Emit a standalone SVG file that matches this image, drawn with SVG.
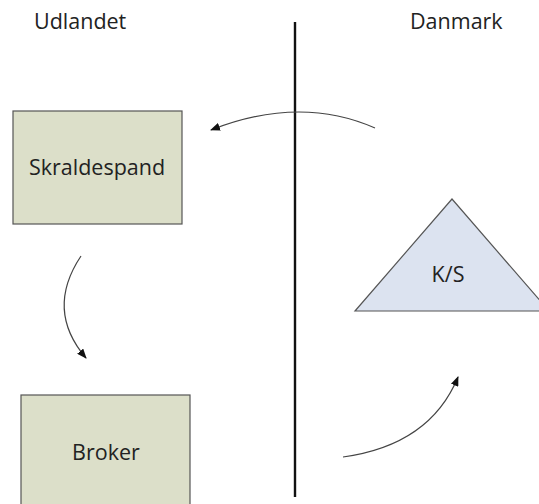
<svg xmlns="http://www.w3.org/2000/svg" width="539" height="504" viewBox="0 0 539 504">
<style>
text{font-family:"Open Sans","Liberation Sans",sans-serif;font-size:21.5px;fill:#222}
.box{fill:#dcdfc9;stroke:#555;stroke-width:1.2}
.tri{fill:#dce3f0;stroke:#555;stroke-width:1.2}
.conn{fill:none;stroke:#444;stroke-width:1.2;marker-end:url(#ah)}
</style>
<defs>
<marker id="ah" markerWidth="10" markerHeight="8" refX="9" refY="4" orient="auto" markerUnits="userSpaceOnUse">
<path d="M0,0 L10,4 L0,8 z" fill="#111"/>
</marker>
</defs>
<rect width="539" height="504" fill="#fff"/>
<line x1="295" y1="22" x2="295" y2="497" stroke="#111" stroke-width="2.4"/>
<text x="34" y="29">Udlandet</text>
<text x="410" y="29">Danmark</text>
<g id="skraldespand">
<rect class="box" x="13" y="111" width="169" height="113"/>
<text x="97" y="175" text-anchor="middle">Skraldespand</text>
</g>
<g id="ks">
<polygon class="tri" points="452,199 355,311 549,311"/>
<text x="448" y="282" text-anchor="middle">K/S</text>
</g>
<g id="broker">
<rect class="box" x="21" y="395" width="169" height="120"/>
<text x="106" y="460" text-anchor="middle">Broker</text>
</g>
<g id="connectors">
<path class="conn" d="M375,128 Q300,95 211,130"/>
<path class="conn" d="M81,256 Q45,310 86,358"/>
<path class="conn" d="M343,457 Q430,445 458,377"/>
</g>
</svg>
